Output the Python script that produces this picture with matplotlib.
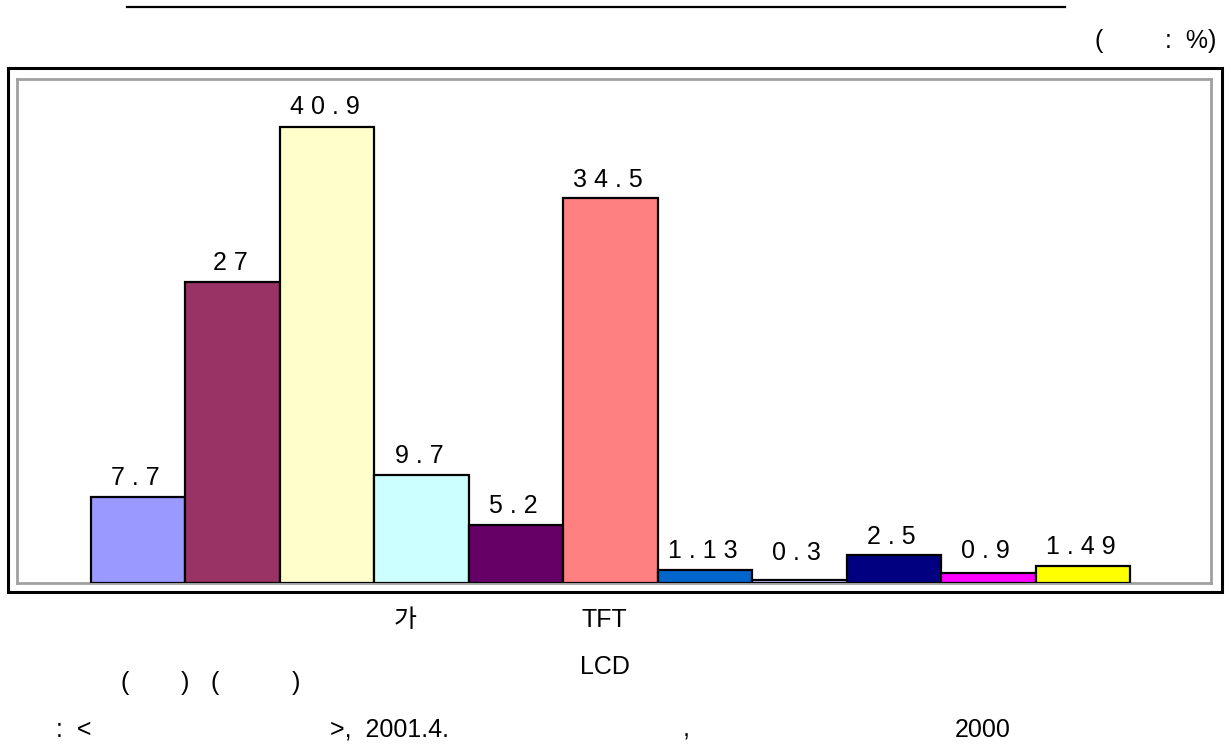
import matplotlib
matplotlib.use("Agg")
import matplotlib.pyplot as plt
from matplotlib.patches import Rectangle
from matplotlib.lines import Line2D

plt.rcParams['font.family'] = ['Liberation Sans', 'Noto Sans CJK KR', 'DejaVu Sans']

# ---- data ----
values = [7.7, 27, 40.9, 9.7, 5.2, 34.5, 1.13, 0.3, 2.5, 0.9, 1.49]
labels = ["7.7", "27", "40.9", "9.7", "5.2", "34.5", "1.13", "0.3", "2.5", "0.9", "1.49"]
colors = ["#9999FF", "#993366", "#FFFFCC", "#CCFFFF", "#660066", "#FF8080",
          "#0066CC", "#CCCCFF", "#000080", "#FF00FF", "#FFFF00"]
label_offsets = [8.5, 8.5, 9, 8.5, 8.5, 8.3, 9.2, 14.5, 8, 11, 9.2]

W, H = 1231, 746
fig = plt.figure(figsize=(W / 100, H / 100), dpi=100)

def fx(px):
    return px / W

def fy(py):
    return 1 - py / H

# axes = inner grey frame
ax = fig.add_axes([fx(17), fy(583), fx(1211) - fx(17), fy(79) - fy(583)])
x = list(range(len(values)))
ax.bar(x, values, width=1.0, color=colors, edgecolor="black", linewidth=1.6, zorder=3)
ax.set_xlim(-1.283, 11.357)
ax.set_ylim(0, 45.2)
ax.set_xticks([])
ax.set_yticks([])
for s in ax.spines.values():
    s.set_color("#A0A0A0")
    s.set_linewidth(2.0)

for xi, v, lab, off in zip(x, values, labels, label_offsets):
    ax.annotate(" ".join(lab), (xi, v), xytext=(-1.8, off), textcoords="offset points",
                ha="center", va="baseline", fontsize=18, zorder=4)

# outer black frame
fig.patches.append(Rectangle((fx(8), fy(592)), fx(1222) - fx(8), fy(68) - fy(592),
                             transform=fig.transFigure, fill=False,
                             edgecolor="black", linewidth=2.2))

# top rule
fig.lines.append(Line2D([fx(127), fx(1065)], [fy(7), fy(7)], transform=fig.transFigure,
                        color="black", linewidth=1.6))

fs = 18
fig.text(fx(1094), fy(41), "(", ha="left", va="center", fontsize=fs)
fig.text(fx(1216), fy(41), ":  %)", ha="right", va="center", fontsize=fs)
fig.text(fx(405), fy(620), "가", ha="center", va="center", fontsize=fs)
fig.text(fx(604), fy(620), "TFT", ha="center", va="center", fontsize=fs)
fig.text(fx(605), fy(667), "LCD", ha="center", va="center", fontsize=fs)
for px, ch in [(120, "("), (181, ")"), (210, "("), (292, ")")]:
    fig.text(fx(px), fy(683), ch, ha="left", va="center", fontsize=fs)
fig.text(fx(56), fy(730), ":  <", ha="left", va="center", fontsize=fs)
fig.text(fx(330), fy(730), ">,  2001.4.", ha="left", va="center", fontsize=fs)
fig.text(fx(683), fy(730), ",", ha="left", va="center", fontsize=fs)
fig.text(fx(955), fy(730), "2000", ha="left", va="center", fontsize=fs)

fig.savefig("out.png", dpi=100)
